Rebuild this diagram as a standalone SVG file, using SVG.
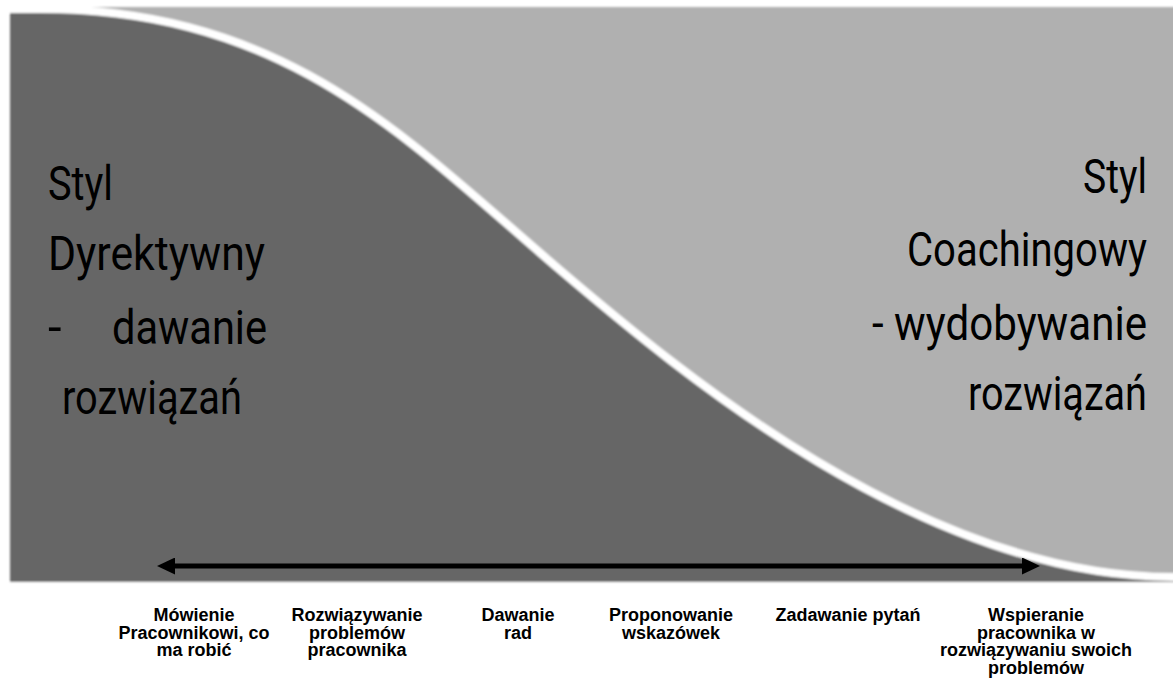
<svg xmlns="http://www.w3.org/2000/svg" width="1173" height="679" viewBox="0 0 1173 679">
  <defs>
    <style>
      .big { font-family: Roboto, "Liberation Sans", sans-serif; font-weight: 400; font-size: 49px; fill: #000; }
      .lbl { font-family: "Liberation Sans", Arial, sans-serif; font-weight: bold; font-size: 18px; fill: #000; text-anchor: middle; }
    </style>
    <filter id="soft" x="-5%" y="-5%" width="110%" height="110%">
      <feGaussianBlur stdDeviation="0.8"/>
    </filter>
    <marker id="ah" viewBox="0 0 18 17" refX="0" refY="8.5" markerWidth="18" markerHeight="17" markerUnits="userSpaceOnUse" orient="auto-start-reverse">
      <path d="M0,0 L18,8.5 L0,17 Z" fill="#000"/>
    </marker>
  </defs>
  <rect width="1173" height="679" fill="#ffffff"/>
  <g id="background" filter="url(#soft)">
    <rect id="coaching-area" x="10" y="7" width="1170" height="570" fill="#b0b0b0"/>
    <path id="directive-area" fill="#666666" d="M10,582 L10,9 L40,9 C290,9 410,142.5 560,270 C680,372 923,577 1173,577 L1180,577 L1180,582 Z"/>
    <path id="divider" fill="none" stroke="#ffffff" stroke-width="8" d="M0,9 L40,9 C290,9 410,142.5 560,270 C680,372 923,577 1173,577 L1180,577"/>
    <rect x="0" y="582" width="1173" height="97" fill="#ffffff"/>
  </g>
  <g id="connectors">
    <line id="scale-arrow" x1="175" y1="566" x2="1022" y2="566" stroke="#000" stroke-width="5" marker-start="url(#ah)" marker-end="url(#ah)"/>
  </g>
  <g id="node-directive">
    <text class="big" x="48" y="200" textLength="65" lengthAdjust="spacingAndGlyphs">Styl</text>
    <text class="big" x="48" y="270" textLength="217" lengthAdjust="spacingAndGlyphs">Dyrektywny</text>
    <text class="big" x="48" y="344">-</text>
    <text class="big" x="112" y="344" textLength="155" lengthAdjust="spacingAndGlyphs">dawanie</text>
    <text class="big" x="62" y="414" textLength="180" lengthAdjust="spacingAndGlyphs">rozwiązań</text>
  </g>
  <g id="node-coaching">
    <text class="big" x="1147" y="193" text-anchor="end" textLength="64" lengthAdjust="spacingAndGlyphs">Styl</text>
    <text class="big" x="1147" y="266" text-anchor="end" textLength="240" lengthAdjust="spacingAndGlyphs">Coachingowy</text>
    <text class="big" x="1147" y="340" text-anchor="end" textLength="275" lengthAdjust="spacingAndGlyphs">- wydobywanie</text>
    <text class="big" x="1147" y="410" text-anchor="end" textLength="179" lengthAdjust="spacingAndGlyphs">rozwiązań</text>
  </g>
  <g id="label-1">
    <text class="lbl" x="194" y="621">Mówienie</text>
    <text class="lbl" x="194" y="638.5">Pracownikowi, co</text>
    <text class="lbl" x="194" y="656">ma robić</text>
  </g>
  <g id="label-2">
    <text class="lbl" x="357" y="621">Rozwiązywanie</text>
    <text class="lbl" x="357" y="638.5">problemów</text>
    <text class="lbl" x="357" y="656">pracownika</text>
  </g>
  <g id="label-3">
    <text class="lbl" x="518" y="621">Dawanie</text>
    <text class="lbl" x="518" y="638.5">rad</text>
  </g>
  <g id="label-4">
    <text class="lbl" x="671" y="621">Proponowanie</text>
    <text class="lbl" x="671" y="638.5">wskazówek</text>
  </g>
  <g id="label-5">
    <text class="lbl" x="848" y="621">Zadawanie pytań</text>
  </g>
  <g id="label-6">
    <text class="lbl" x="1036" y="621">Wspieranie</text>
    <text class="lbl" x="1036" y="638.5">pracownika w</text>
    <text class="lbl" x="1036" y="656">rozwiązywaniu swoich</text>
    <text class="lbl" x="1036" y="673.5">problemów</text>
  </g>
</svg>
